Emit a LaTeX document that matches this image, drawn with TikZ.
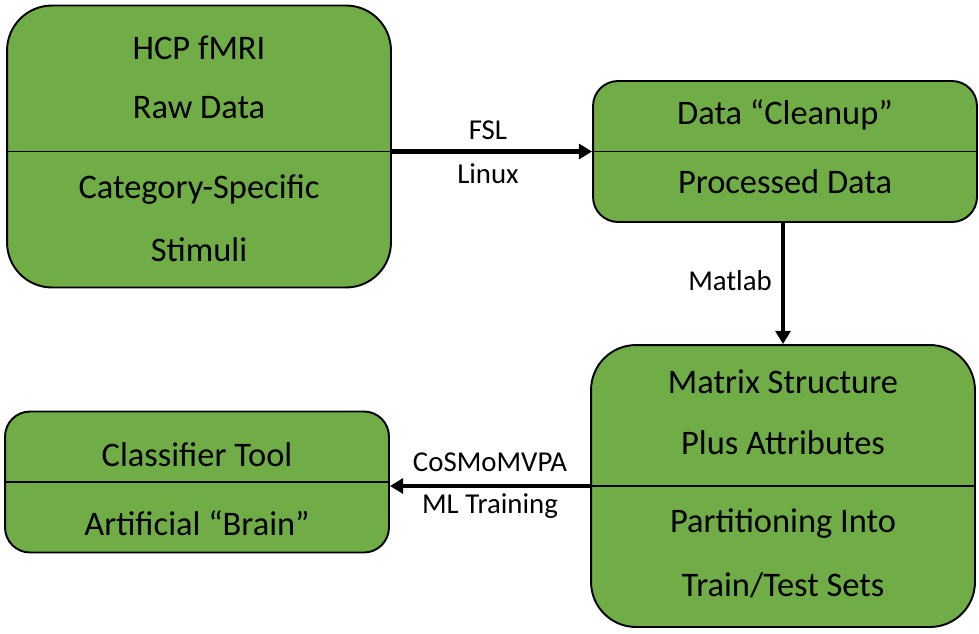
\documentclass[tikz,border=0pt]{standalone}
\usepackage{fontspec}
\setmainfont{Carlito}
\usetikzlibrary{arrows.meta, positioning}
\definecolor{boxgreen}{HTML}{70AD47}
\tikzstyle{box}  = [draw, fill=boxgreen, line width=1.1pt, inner sep=0pt, minimum width=7.68cm]
\tikzstyle{tall} = [box, minimum height=5.64cm, rounded corners=0.9cm]
\tikzstyle{flat} = [box, minimum height=2.82cm, rounded corners=0.5cm]
\tikzstyle{txt}  = [font=\fontsize{19.6}{23}\selectfont]
\tikzstyle{lbl}  = [font=\fontsize{16.4}{19}\selectfont]
\tikzstyle{->}   = [draw, line width=2.4pt, -{Triangle[length=7.5pt, width=8.5pt]}]

\begin{document}
\begin{tikzpicture}[x=0.02cm, y=-0.02cm]
\useasboundingbox (0,0) rectangle (979,633);

% boxes
\node [tall] at (199 , 146.5) (raw)   {};
\node [flat] at (785 , 151.5) (clean) {};
\node [tall] at (783 , 486  ) (mtx)   {};
\node [flat] at (197 , 482  ) (clf)   {};

% dividers
\draw [line width=1.1pt] (raw.west |- clean.west) -- (raw.east |- clean.west);
\draw [line width=1.1pt] (clean.west) -- (clean.east);
\draw [line width=1.1pt] (mtx.west)   -- (mtx.east);
\draw [line width=1.1pt] (clf.west)   -- (clf.east);

% box texts
\node [txt] at (199 ,  48) (raw1)   {HCP fMRI};
\node [txt] at (199 , 108) (raw2)   {Raw Data};
\node [txt] at (199 , 190) (raw3)   {Category-Specific};
\node [txt] at (199 , 250) (raw4)   {Stimuli};
\node [txt] at (785 , 115) (clean1) {Data “Cleanup”};
\node [txt] at (785 , 182) (clean2) {Processed Data};
\node [txt] at (783 , 382) (mtx1)   {Matrix Structure};
\node [txt] at (783 , 443) (mtx2)   {Plus Attributes};
\node [txt] at (783 , 524) (mtx3)   {Partitioning Into};
\node [txt] at (783 , 585) (mtx4)   {Train/Test Sets};
\node [txt] at (197 , 455) (clf1)   {Classifier Tool};
\node [txt] at (197 , 523) (clf2)   {Artificial “Brain”};

% edges
\path [->] (raw.east |- clean.west) -- (clean.west);
\path [->] (clean.south -| 783,0) -- (mtx.north);
\path [->] (mtx.west) -- (mtx.west -| clf.east);

% edge labels
\node [lbl] at (488 , 130) (fsl)   {FSL};
\node [lbl] at (488 , 174) (linux) {Linux};
\node [lbl] at (730 , 281) (mat)   {Matlab};
\node [lbl] at (490 , 462) (cosmo) {CoSMoMVPA};
\node [lbl] at (490 , 506) (ml)    {ML Training};

\end{tikzpicture}
\end{document}
